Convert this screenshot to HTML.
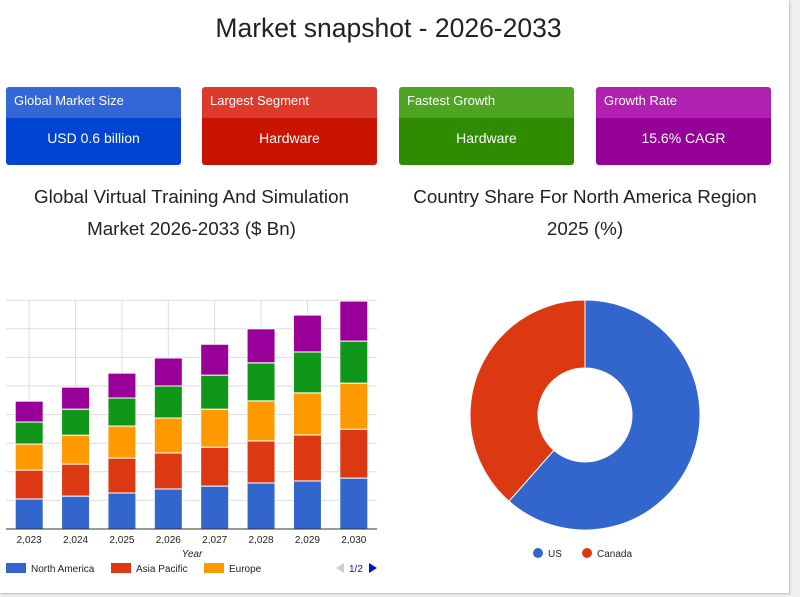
<!DOCTYPE html>
<html><head><meta charset="utf-8"><style>
html,body{margin:0;padding:0;}
body{width:800px;height:597px;background:#f0f0f0;position:relative;overflow:hidden;font-family:"Liberation Sans",sans-serif;}
#page{position:absolute;left:0;top:0;width:789px;height:593px;background:#fff;box-shadow:1px 1px 2px #bbb;}
h1{position:absolute;left:0;width:777px;top:13px;margin:0;text-align:center;font-size:26.5px;font-weight:normal;color:#222;}
.card{position:absolute;top:87px;width:175px;height:78px;border-radius:3px;overflow:hidden;color:#fff;}
.card .hd{height:31px;line-height:28px;font-size:13px;padding-left:8px;}
.card .bd{height:47px;line-height:40px;font-size:14px;text-align:center;}
.ct{position:absolute;text-align:center;font-size:18.8px;color:#222;line-height:32px;}
</style></head><body>
<div id="page">
<h1>Market snapshot - 2026-2033</h1>
<div class="card" style="left:6px"><div class="hd" style="background:#3366d6">Global Market Size</div><div class="bd" style="background:#0044d2">USD 0.6 billion</div></div>
<div class="card" style="left:202px"><div class="hd" style="background:#de3a2c">Largest Segment</div><div class="bd" style="background:#c81400">Hardware</div></div>
<div class="card" style="left:399px"><div class="hd" style="background:#4ea521">Fastest Growth</div><div class="bd" style="background:#2f8c00">Hardware</div></div>
<div class="card" style="left:596px"><div class="hd" style="background:#b021b0">Growth Rate</div><div class="bd" style="background:#950096">15.6% CAGR</div></div>
<div class="ct" style="left:0;width:383px;top:181px">Global Virtual Training And Simulation<br>Market 2026-2033 ($ Bn)</div>
<div class="ct" style="left:390px;width:390px;top:181px">Country Share For North America Region<br>2025 (%)</div>
<svg id="bar" width="390" height="300" style="position:absolute;left:0;top:290px"></svg>
<svg id="pie" width="400" height="300" style="position:absolute;left:390px;top:290px"></svg>
</div>
<script>
const years=["2,023","2,024","2,025","2,026","2,027","2,028","2,029","2,030"];
const northAmerica=[1.05,1.15,1.26,1.40,1.50,1.61,1.68,1.78];
const asiaPacific=[1.01,1.12,1.22,1.26,1.36,1.47,1.61,1.71];
const europe=[0.91,1.01,1.12,1.22,1.33,1.40,1.47,1.61];
const latinAmerica=[0.77,0.91,0.98,1.12,1.19,1.33,1.43,1.47];
const mea=[0.73,0.77,0.87,0.98,1.08,1.19,1.29,1.40];
const seriesNames=["north-america","asia-pacific","europe","latin-america","middle-east-africa"];
const shareLabels=["US","Canada"];
const shareValues=[61.5,38.5];
const NS="http://www.w3.org/2000/svg";
function mk(p,t,a){const e=document.createElementNS(NS,t);for(const k in a)e.setAttribute(k,a[k]);p.appendChild(e);return e;}
const bar=document.getElementById('bar');
const x0=6,x1=377,yb=239,unit=28.6,maxU=8;
const band=(x1-x0)/years.length;
const xc=i=>x0+band*(i+0.5);
const yv=v=>yb-v*unit;
for(let g=0;g<=maxU;g++){const l=mk(bar,'line',{x1:x0,x2:x1,y1:yv(g),y2:yv(g),stroke:'#ddd'});

}
years.forEach((y,i)=>{const l=mk(bar,'line',{x1:xc(i),x2:xc(i),y1:yv(maxU),y2:yb,stroke:'#ddd'});

});
const series=[northAmerica,asiaPacific,europe,latinAmerica,mea];
const colors=["#3366cc","#dc3912","#ff9900","#109618","#990099"];
years.forEach((y,i)=>{let acc=0;series.forEach((s,k)=>{const v=s[i];
const r=mk(bar,'rect',{x:xc(i)-14,width:28,y:yv(acc+v),height:v*unit,fill:colors[k],stroke:'#fff','stroke-width':1});


acc+=v;});
const t=mk(bar,'text',{x:xc(i),y:yb+14,'text-anchor':'middle','font-size':10,fill:'#222'});t.textContent=y;

});
const ax=mk(bar,'line',{x1:x0,x2:x1,y1:yb,y2:yb,stroke:'#333'});


const xt=mk(bar,'text',{x:192,y:267,'text-anchor':'middle','font-size':10,'font-style':'italic',fill:'#222'});xt.textContent='Year';


const leg=[["North America",6],["Asia Pacific",111],["Europe",204]];
leg.forEach((e,k)=>{const g=mk(bar,'g',{});


mk(g,'rect',{x:e[1],y:273,width:20,height:10,fill:colors[k]});
const t=mk(g,'text',{x:e[1]+25,y:282,'font-size':10,fill:'#222'});t.textContent=e[0];});
const pg=mk(bar,'g',{});


mk(pg,'path',{d:'M336 278 l8 -5 v10 z',fill:'#ccc'});
const pt=mk(pg,'text',{x:349,y:282,'font-size':10,fill:'#0011cc'});pt.textContent='1/2';
mk(pg,'path',{d:'M377 278 l-8 -5 v10 z',fill:'#0011cc'});
const pie=document.getElementById('pie');
const cx=195,cy=125,R=115,r0=47;
const total=shareValues.reduce((a,b)=>a+b,0);
const pcol=["#3366cc","#dc3912"];
let a0=0;
shareValues.forEach((v,k)=>{const a1=a0+v/total*2*Math.PI;
const P=(rad,a)=>[cx+rad*Math.sin(a),cy-rad*Math.cos(a)];
const [ax1,ay1]=P(R,a0),[ax2,ay2]=P(R,a1),[bx2,by2]=P(r0,a1),[bx1,by1]=P(r0,a0);
const lg=(a1-a0)>Math.PI?1:0;
const p=mk(pie,'path',{d:`M${ax1} ${ay1} A${R} ${R} 0 ${lg} 1 ${ax2} ${ay2} L${bx2} ${by2} A${r0} ${r0} 0 ${lg} 0 ${bx1} ${by1}Z`,fill:pcol[k],stroke:'#fff','stroke-width':1});


a0=a1;});
const lx=[148,197];
shareLabels.forEach((s,k)=>{const g=mk(pie,'g',{});


mk(g,'circle',{cx:lx[k],cy:263,r:5,fill:pcol[k]});
const t=mk(g,'text',{x:lx[k]+10,y:267,'font-size':10,fill:'#222'});t.textContent=s;});
</script>
</body></html>
